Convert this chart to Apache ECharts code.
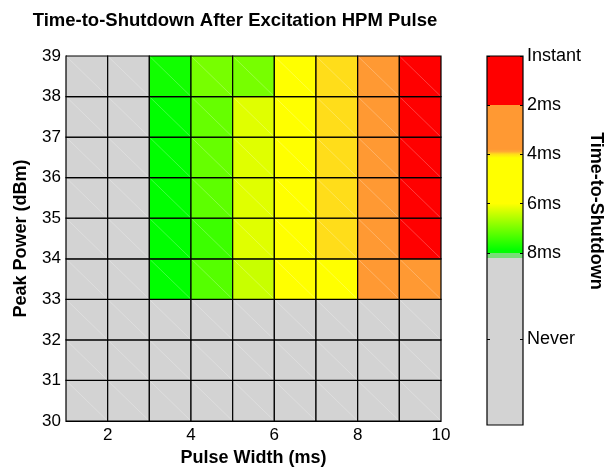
<!DOCTYPE html>
<html>
<head>
<meta charset="utf-8">
<script src="https://cdn.jsdelivr.net/npm/echarts@6/dist/echarts.min.js"></script>
<style>
  html, body { margin: 0; padding: 0; background: #fff; }
  #main { width: 612px; height: 472px; }
</style>
</head>
<body>
<div id="main"></div>
<script>
// time-to-shutdown in ms, NEVER = no shutdown
var NEVER = 11.5;
var N = NEVER;

// left edge of each pulse width cell (ms) and bottom edge of each power cell (dBm)
var pulseEdges = [1, 2, 3, 4, 5, 6, 7, 8, 9];
var powerEdges = [30, 31, 32, 33, 34, 35, 36, 37, 38];

// one row per power level, columns follow pulseEdges
var t30 = [N, N, N, N, N, N, N, N, N];
var t31 = [N, N, N, N, N, N, N, N, N];
var t32 = [N, N, N, N, N, N, N, N, N];
var t33 = [N, N, 7.95, 7.27, 6.41, 5, 5, 3, 3];
var t34 = [N, N, 7.95, 7.45, 6.23, 5, 4, 3, 1];
var t35 = [N, N, 7.95, 7.21, 6.23, 5, 4, 3, 1];
var t36 = [N, N, 7.95, 7.14, 6.23, 5, 4, 3, 1];
var t37 = [N, N, 7.95, 7.14, 6.23, 5, 4, 3, 1];
var t38 = [N, N, 7.77, 7.01, 7.01, 5, 4, 3, 1];
var rows = [t30, t31, t32, t33, t34, t35, t36, t37, t38];

var xTickValues = [2, 4, 6, 8, 10];
var cbTickValues = [0, 2, 4, 6, 8, 11.5];
var cbTickLabels = ['Instant', '2ms', '4ms', '6ms', '8ms', 'Never'];
var cbMax = 15;

// colormap stops [ms, colour]
var cmap = [
    [0, '#ff0000'], [2, '#ff0000'], [2, '#ff9933'], [3.8, '#ff9933'],
    [3.9, '#ffaa33'], [4.0, '#ffdd1a'], [4.15, '#ffff00'], [6, '#ffff00'],
    [7.9, '#00ff00'], [8.0, '#00ff00'], [8.0, '#77dd77'], [8.2, '#77dd77'],
    [8.2, '#d3d3d3'], [15, '#d3d3d3']
];

function hex2rgb(h) {
    return [parseInt(h.substr(1, 2), 16), parseInt(h.substr(3, 2), 16), parseInt(h.substr(5, 2), 16)];
}
function colorOf(v) {
    for (var i = 0; i < cmap.length - 1; i++) {
        var a = cmap[i], b = cmap[i + 1];
        if (v >= a[0] && v <= b[0] && b[0] > a[0]) {
            var t = (v - a[0]) / (b[0] - a[0]);
            var ca = hex2rgb(a[1]), cb = hex2rgb(b[1]);
            return 'rgb(' + ca.map(function (c, k) { return Math.round(c + (cb[k] - c) * t); }).join(',') + ')';
        }
    }
    return cmap[cmap.length - 1][1];
}

var cells = [];
rows.forEach(function (row, j) {
    row.forEach(function (v, i) {
        cells.push([pulseEdges[i], powerEdges[j], v]);
    });
});

var font = '"Liberation Sans", Arial, sans-serif';

var dom = document.getElementById('main');
var myChart = echarts.init(dom, null, { renderer: 'canvas' });

var option = {
    animation: false,
    graphic: [
        {
            type: 'text', x: 235, y: 21,
            style: { text: 'Time-to-Shutdown After Excitation HPM Pulse', align: 'center', verticalAlign: 'middle',
                font: 'bold 18.5px ' + font, fill: '#000' }
        },
        {
            type: 'text', x: 596, y: 211, rotation: -Math.PI / 2,
            style: { text: 'Time-to-Shutdown', align: 'center', verticalAlign: 'middle',
                font: 'bold 18px ' + font, fill: '#000' }
        }
    ],
    grid: [
        { left: 66, top: 56, width: 375, height: 369 },
        { left: 487, top: 56, width: 36, height: 369 }
    ],
    xAxis: [
        {
            gridIndex: 0, type: 'value', min: 1, max: 10, interval: 1,
            name: 'Pulse Width (ms)', nameLocation: 'middle', nameGap: 28,
            nameTextStyle: { fontFamily: font, fontSize: 18, fontWeight: 'bold', color: '#000' },
            axisLine: { lineStyle: { color: '#000' } },
            axisTick: { show: false },
            splitLine: { show: false },
            axisLabel: {
                fontFamily: font, fontSize: 17, color: '#000', margin: 6,
                formatter: function (v) { return xTickValues.indexOf(v) >= 0 ? String(v) : ''; }
            }
        },
        { gridIndex: 1, type: 'value', min: 0, max: 1, show: false }
    ],
    yAxis: [
        {
            gridIndex: 0, type: 'value', min: 30, max: 39, interval: 1,
            name: 'Peak Power (dBm)', nameLocation: 'middle', nameGap: 36,
            nameTextStyle: { fontFamily: font, fontSize: 18, fontWeight: 'bold', color: '#000' },
            axisLine: { lineStyle: { color: '#000' } },
            axisTick: { show: false },
            splitLine: { show: false },
            axisLabel: { fontFamily: font, fontSize: 17, color: '#000', margin: 5 }
        },
        {
            gridIndex: 1, type: 'value', min: 0, max: cbMax, inverse: true, position: 'left', z: 10,
            axisLine: { show: false },
            axisTick: { show: true, inside: true, length: 3, customValues: cbTickValues, lineStyle: { color: '#000' } },
            axisLabel: { show: false },
            splitLine: { show: false }
        },
        {
            gridIndex: 1, type: 'value', min: 0, max: cbMax, inverse: true, position: 'right', z: 10,
            axisLine: { show: false },
            axisTick: { show: true, inside: true, length: 3, customValues: cbTickValues, lineStyle: { color: '#000' } },
            axisLabel: {
                fontFamily: font, fontSize: 18, color: '#000', margin: 4,
                customValues: cbTickValues,
                formatter: function (v) { return cbTickLabels[cbTickValues.indexOf(v)]; }
            },
            splitLine: { show: false }
        }
    ],
    series: [
        {
            type: 'custom',
            xAxisIndex: 0, yAxisIndex: 0,
            data: cells,
            renderItem: function (params, api) {
                var x = api.value(0), y = api.value(1), v = api.value(2);
                var p0 = api.coord([x, y + 1]);
                var p1 = api.coord([x + 1, y]);
                return {
                    type: 'group',
                    children: [
                        {
                            type: 'rect',
                            shape: { x: p0[0], y: p0[1], width: p1[0] - p0[0], height: p1[1] - p0[1] },
                            style: { fill: colorOf(v), stroke: '#000', lineWidth: 1.2 }
                        },
                        {
                            type: 'line',
                            shape: { x1: p0[0] + 1, y1: p0[1] + 1, x2: p1[0] - 1, y2: p1[1] - 1 },
                            style: { stroke: 'rgba(255,255,255,0.35)', lineWidth: 0.7 }
                        }
                    ]
                };
            }
        },
        {
            type: 'custom',
            xAxisIndex: 1, yAxisIndex: 1,
            data: [[0, cbMax]],
            renderItem: function (params, api) {
                var p0 = api.coord([0, 0]);
                var p1 = api.coord([1, api.value(1)]);
                return {
                    type: 'rect',
                    shape: { x: p0[0], y: p0[1], width: p1[0] - p0[0], height: p1[1] - p0[1] },
                    style: {
                        fill: {
                            type: 'linear', x: 0, y: 0, x2: 0, y2: 1,
                            colorStops: cmap.map(function (s) { return { offset: s[0] / cbMax, color: s[1] }; })
                        },
                        stroke: '#000', lineWidth: 1.2
                    }
                };
            }
        }
    ]
};

myChart.setOption(option);
window.addEventListener('resize', myChart.resize);
</script>
</body>
</html>
